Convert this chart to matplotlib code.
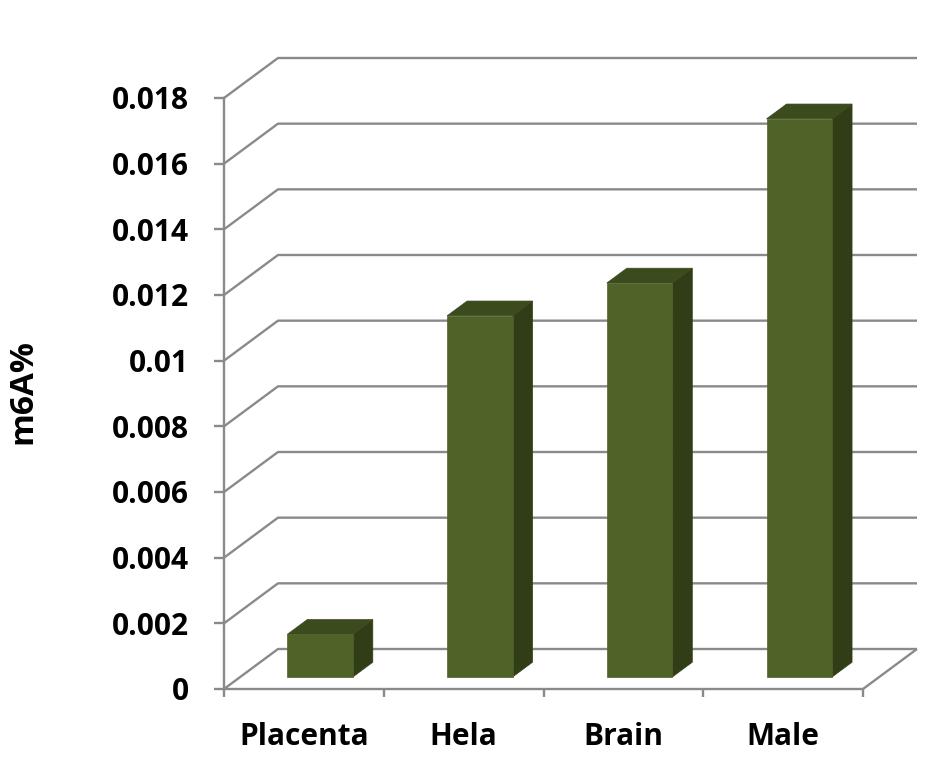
import matplotlib
matplotlib.use('Agg')
import matplotlib.pyplot as plt
from matplotlib.patches import Polygon
from matplotlib.lines import Line2D
from matplotlib.transforms import IdentityTransform
import numpy as np

categories = ['Placenta', 'Hela', 'Brain', 'Male']
values = [0.0013, 0.011, 0.012, 0.017]
yticks = [0, 0.002, 0.004, 0.006, 0.008, 0.010, 0.012, 0.014, 0.016, 0.018]
ytick_labels = ['0', '0.002', '0.004', '0.006', '0.008', '0.01', '0.012', '0.014', '0.016', '0.018']
ylabel = 'm6A%'

FONT = 'Open Sans'
GRID = '#8a8a8a'
FRONT = '#4f6228'
TOP = '#3c4b1e'
SIDE = '#313d17'

W, H = 941, 783
fig = plt.figure(figsize=(W / 100, H / 100), dpi=100)
x0p, x1p, y0p, y1p = 224, 863, 689, 98
ax = fig.add_axes([x0p / W, 1 - y0p / H, (x1p - x0p) / W, (y0p - y1p) / H])
ax.set_xlim(-0.5, len(categories) - 0.5)
ax.set_ylim(0, 0.018)
ax.patch.set_visible(False)

DX, DY = 54, 40  # full depth offset in pixels


def proj(x, y, f):
    px, py = ax.transData.transform((x, y))
    return (px + f * DX, py + f * DY)


def line(pts, z=1):
    xs, ys = zip(*pts)
    ax.add_line(Line2D(xs, ys, transform=IdentityTransform(), color=GRID,
                       lw=1.7, zorder=z, clip_on=False, solid_capstyle='butt'))


xl, xr = ax.get_xlim()
for v in yticks:
    line([proj(xl, v, 0), proj(xl, v, 1), proj(xr, v, 1)])
# floor right edge
line([proj(xr, 0, 0), proj(xr, 0, 1)])

# bars
bw = 0.41
f0, f1 = 0.30, 0.67
for i, v in enumerate(values):
    a, b = i - bw / 2, i + bw / 2
    front = [proj(a, 0, f0), proj(b, 0, f0), proj(b, v, f0), proj(a, v, f0)]
    top = [proj(a, v, f0), proj(b, v, f0), proj(b, v, f1), proj(a, v, f1)]
    side = [proj(b, 0, f0), proj(b, 0, f1), proj(b, v, f1), proj(b, v, f0)]
    for pts, c in ((side, SIDE), (top, TOP), (front, FRONT)):
        ax.add_patch(Polygon(pts, closed=True, transform=IdentityTransform(),
                             facecolor=c, edgecolor=c, lw=0.5, zorder=3, clip_on=False))

# spines / axes
for s in ('top', 'right'):
    ax.spines[s].set_visible(False)
for s in ('left', 'bottom'):
    ax.spines[s].set_color(GRID)
    ax.spines[s].set_linewidth(1.7)

ax.set_yticks(yticks)
ax.set_yticklabels(ytick_labels, fontfamily=FONT, fontweight='bold', fontsize=21.5)
ax.tick_params(axis='y', length=7.5, width=1.7, color=GRID, pad=18)

ax.set_xticks(np.arange(-0.5, len(categories), 1.0))
ax.set_xticklabels([])
ax.tick_params(axis='x', which='major', length=6, width=1.7, color=GRID)
ax.set_xticks(np.arange(len(categories)), minor=True)
ax.set_xticklabels(categories, minor=True, fontfamily=FONT, fontweight='bold', fontsize=21.5)
ax.tick_params(axis='x', which='minor', length=0, pad=24)

fig.text(23 / W, 1 - 392 / H, ylabel, rotation=90, ha='center', va='center',
         fontfamily=FONT, fontweight='bold', fontsize=24)

fig.savefig('out.png', dpi=100)
